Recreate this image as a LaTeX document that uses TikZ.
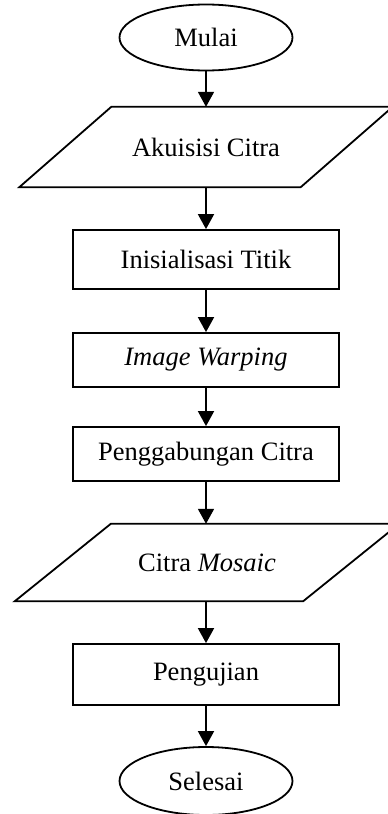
\documentclass[tikz,border=0pt]{standalone}
\usepackage{fontspec}
\setmainfont{Liberation Serif}
\usetikzlibrary{arrows.meta,shapes.geometric,calc}
\begin{document}
\begin{tikzpicture}[x=1pt,y=-1pt,
  every node/.style={font=\fontsize{26.5}{30}\selectfont, inner sep=0pt},
  line/.style={line width=1.8pt},
  term/.style={ellipse, draw, line width=1.8pt, minimum width=173pt, minimum height=66pt},
  proc/.style={rectangle, draw, line width=1.8pt, minimum width=266pt},
  io/.style={rectangle, draw=none, minimum width=281pt},
  flow/.style={line width=1.8pt, -{Triangle[length=15pt,width=16pt]}}]
\useasboundingbox (0,0) rectangle (388,814);
\clip (0,0) rectangle (388,814);
\node[term] (mulai) at (206,37.5) {Mulai};
\node[io, minimum height=80pt] (akuisisi) at (206,147) {Akuisisi Citra};
\draw[line] ($(akuisisi.north west)+(46,0)$) -- ($(akuisisi.north east)+(46,0)$) -- ($(akuisisi.south east)+(-46,0)$) -- ($(akuisisi.south west)+(-46,0)$) -- cycle;
\node[proc, minimum height=59pt] (inisial) at (206,259.5) {Inisialisasi Titik};
\node[proc, minimum height=54pt] (warp) at (206,360) {\textit{Image Warping}};
\node[proc, minimum height=54pt] (gabung) at (206,454) {Penggabungan Citra};
\node[io, minimum width=288pt, minimum height=77pt] (mosaic) at (207,562.5) {Citra \textit{Mosaic}};
\draw[line] ($(mosaic.north west)+(48,0)$) -- ($(mosaic.north east)+(48,0)$) -- ($(mosaic.south east)+(-48,0)$) -- ($(mosaic.south west)+(-48,0)$) -- cycle;
\node[proc, minimum height=61pt] (uji) at (206,674.5) {Pengujian};
\node[term, minimum height=68pt] (selesai) at (206,781) {Selesai};
\draw[flow] (mulai.south) -- (mulai.south |- akuisisi.north);
\draw[flow] (mulai.south |- akuisisi.south) -- (inisial.north);
\draw[flow] (inisial) -- (warp);
\draw[flow] (warp) -- (gabung);
\draw[flow] (gabung.south) -- (gabung.south |- mosaic.north);
\draw[flow] (gabung.south |- mosaic.south) -- (uji.north);
\draw[flow] (uji) -- (selesai);
\end{tikzpicture}
\end{document}
